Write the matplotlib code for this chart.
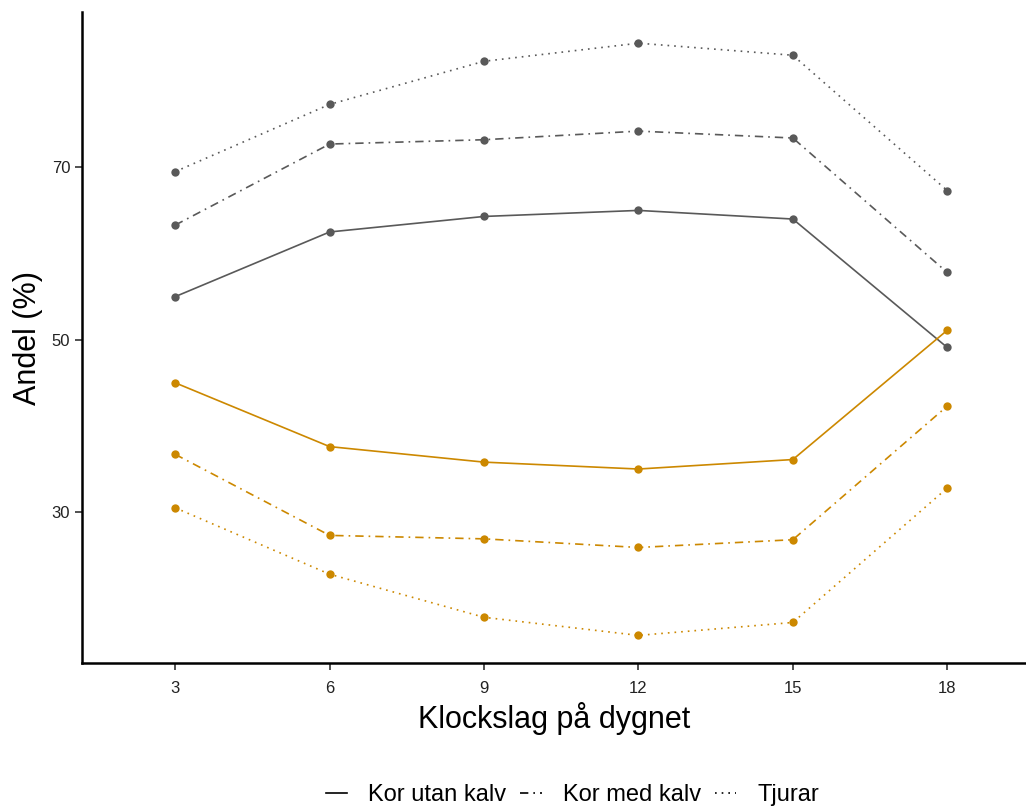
import matplotlib

matplotlib.use("Agg")
import matplotlib.pyplot as plt
from matplotlib.lines import Line2D

plt.rcParams["font.family"] = ["Liberation Sans", "DejaVu Sans"]

hours = [3, 6, 9, 12, 15, 18]
groups = ["Kor utan kalv", "Kor med kalv", "Tjurar"]

# share (%) per group, two complementary outcomes
share_grey = {
    "Kor utan kalv": [55.0, 62.5, 64.3, 65.0, 64.0, 49.1],
    "Kor med kalv": [63.3, 72.7, 73.2, 74.2, 73.4, 57.8],
    "Tjurar": [69.5, 77.3, 82.3, 84.4, 83.0, 67.3],
}
share_orange = {
    "Kor utan kalv": [45.0, 37.6, 35.8, 35.0, 36.1, 51.1],
    "Kor med kalv": [36.7, 27.3, 26.9, 25.9, 26.8, 42.3],
    "Tjurar": [30.5, 22.8, 17.8, 15.7, 17.2, 32.8],
}

linestyles = {
    "Kor utan kalv": "-",
    "Kor med kalv": (0, (5, 3, 1, 3)),
    "Tjurar": (0, (1, 3)),
}
colors = {"grey": "#595959", "orange": "#CC8800"}

fig = plt.figure(figsize=(10.26, 8.10), dpi=100)
ax = fig.add_axes([0.08, 0.1815, 0.92, 0.8035])

for name in groups:
    for key, data in (("grey", share_grey), ("orange", share_orange)):
        ax.plot(hours, data[name], color=colors[key], linestyle=linestyles[name],
                linewidth=1.2, marker="o", markersize=6, markeredgewidth=0)

ax.set_xlim(1.19, 19.53)
ax.set_ylim(12.5, 88.0)
ax.set_xticks(hours)
ax.set_yticks([30, 50, 70])
ax.tick_params(axis="both", labelsize=12, length=5, width=1.2, colors="#333333",
               labelcolor="#222222")
ax.tick_params(axis="x", pad=8)
for side in ("top", "right"):
    ax.spines[side].set_visible(False)
for side in ("left", "bottom"):
    ax.spines[side].set_linewidth(1.8)

ax.set_xlabel("Klockslag på dygnet", fontsize=22, labelpad=4)
ax.set_ylabel("Andel (%)", fontsize=22, labelpad=6)

handles = [Line2D([0], [0], color="black", linestyle=linestyles[g], linewidth=1.2)
           for g in groups]
fig.legend(handles, groups, loc="center", bbox_to_anchor=(0.558, 0.018), ncol=3,
           frameon=False, fontsize=17, handlelength=0.9, handletextpad=0.9,
           columnspacing=0.6)

fig.savefig("out.png", dpi=100)
